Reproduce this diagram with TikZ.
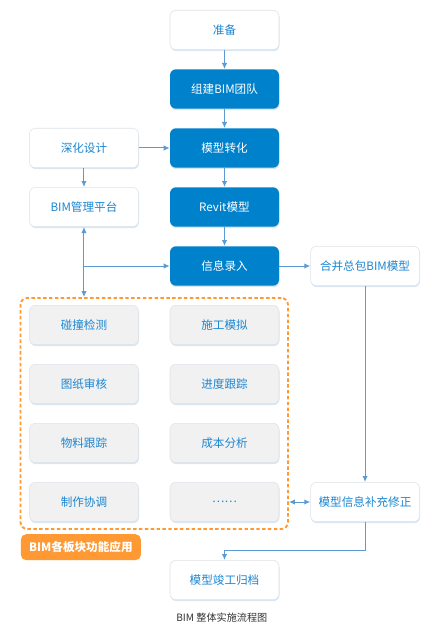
\documentclass[tikz,border=0pt]{standalone}
\usepackage{fontspec}
\setmainfont{Noto Sans CJK SC}
\usepackage{xcolor}
\usepackage{tikz}
\usetikzlibrary{positioning, arrows.meta, calc, fit, shadows}

\definecolor{mainblue}{HTML}{0081CC}
\definecolor{textblue}{HTML}{1C86D1}
\definecolor{arrowblue}{HTML}{5B9BD5}
\definecolor{boxline}{HTML}{DDE2E8}
\definecolor{boxgray}{HTML}{F1F1F1}
\definecolor{tagorange}{HTML}{FF9933}
\definecolor{shadowblue}{HTML}{C9DCF0}
\definecolor{captiongray}{HTML}{333333}

\begin{document}
\begin{tikzpicture}[
    x=0.75pt, y=0.75pt,
    font=\fontsize{8.7}{10}\selectfont,
    stagebox/.style={
        rectangle,
        rounded corners=4.5pt,
        minimum width=81.75pt,
        minimum height=29.6pt,
        inner sep=0pt,
        drop shadow={shadow xshift=0.4pt, shadow yshift=-1.1pt, fill=shadowblue, opacity=0.7}
    },
    whitebox/.style={stagebox, draw=boxline, fill=white, text=textblue},
    bluebox/.style={stagebox, fill=mainblue, text=white},
    graybox/.style={stagebox, draw=boxline, fill=boxgray, text=textblue},
    groupbox/.style={
        draw=tagorange,
        line width=1.4pt,
        dash pattern=on 2.6pt off 1.8pt,
        rounded corners=5pt,
        inner xsep=6.5pt,
        inner ysep=5.25pt
    },
    tagbox/.style={
        rectangle,
        rounded corners=4pt,
        fill=tagorange,
        text=white,
        font=\fontsize{8.7}{10}\selectfont\bfseries,
        minimum width=90pt,
        minimum height=19.5pt,
        inner sep=0pt
    },
    link/.style={draw=arrowblue, line width=0.75pt},
    >={Latex[length=4.5pt,width=4pt]}
]

\useasboundingbox (0,0) rectangle (445,-631);

% ==========================================
% MAIN FLOW
% ==========================================

% Nodes
\node[whitebox] (prep) at (224.5,-30) {准备};
\node[bluebox, below=14.25pt of prep] (team) {组建BIM团队};
\node[bluebox, below=14.25pt of team] (convert) {模型转化};
\node[bluebox, below=14.25pt of convert] (revit) {Revit模型};
\node[bluebox, below=14.25pt of revit] (input) {信息录入};

% Side nodes
\node[whitebox, left=23.25pt of convert] (design) {深化设计};
\node[whitebox, left=23.25pt of revit] (platform) {BIM管理平台};
\node[whitebox, right=23.25pt of input] (merge) {合并总包BIM模型};

% ==========================================
% FUNCTION GROUP
% ==========================================

% Grid of applications
\node[graybox, below=14.25pt of input] (simulate) {施工模拟};
\node[graybox, left=23.25pt of simulate] (clash) {碰撞检测};
\node[graybox, below=14.25pt of clash] (drawing) {图纸审核};
\node[graybox, below=14.25pt of simulate] (progress) {进度跟踪};
\node[graybox, below=14.25pt of drawing] (material) {物料跟踪};
\node[graybox, below=14.25pt of progress] (cost) {成本分析};
\node[graybox, below=14.25pt of material] (coop) {制作协调};
\node[graybox, below=14.25pt of cost] (more) {……};

% Dashed frame and its label
\node[groupbox, fit=(clash)(more)] (group) {};
\node[tagbox, below=3pt of group.south west, anchor=north west, xshift=0.75pt] (tag) {BIM各板块功能应用};

% Right and bottom nodes
\node[whitebox] (revise) at (merge |- coop) {模型信息补充修正};
\node[whitebox, below=28.5pt of more] (archive) {模型竣工归档};

% Caption
\node[below=9.5pt of archive, inner sep=0pt, text=captiongray, font=\fontsize{7.6}{9}\selectfont, xshift=-2pt] (caption) {BIM 整体实施流程图};

% ==========================================
% CONNECTORS
% ==========================================
\draw[link, ->] (prep) -- (team);
\draw[link, ->] (team) -- (convert);
\draw[link, ->] (convert) -- (revit);
\draw[link, ->] (revit) -- (input);
\draw[link, ->] (design) -- (convert);
\draw[link, ->] (design) -- (platform);

% Platform to function group, with branch to input
\draw[link, <->] (platform) -- (platform |- group.north);
\coordinate (fork) at (platform |- input);
\draw[link, ->] (fork) -- (input);

\draw[link, ->] (input) -- (merge);
\draw[link, ->] (merge) -- (revise);
\draw[link, <->] (group.east |- revise) -- (revise.west);

% Revise down to archive
\coordinate (bend) at ([yshift=-21pt]revise.south);
\draw[link, ->] (revise) -- (bend) -| (archive.north);

\end{tikzpicture}
\end{document}
